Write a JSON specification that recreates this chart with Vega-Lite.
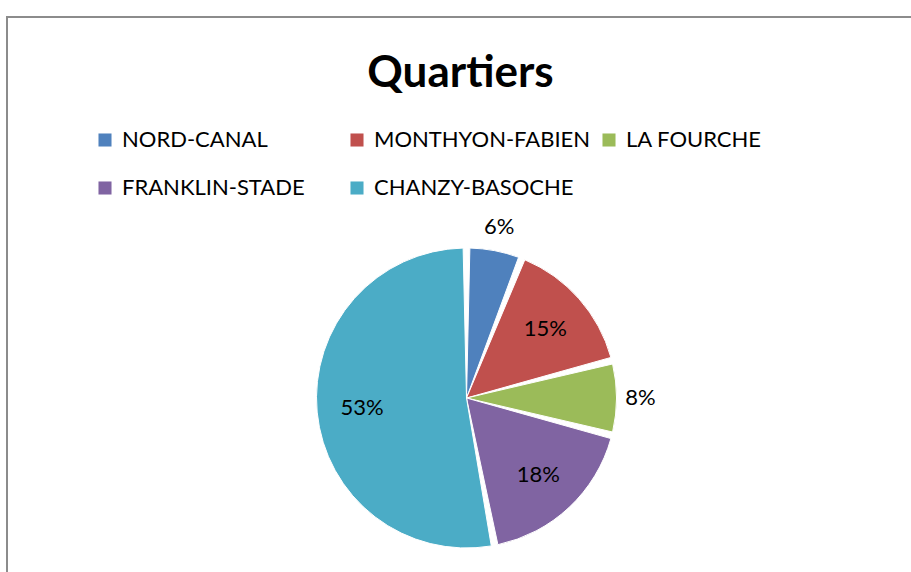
{
  "$schema": "https://vega.github.io/schema/vega-lite/v6.json",
  "width": 911,
  "height": 572,
  "autosize": {"type": "fit", "contains": "padding"},
  "padding": {"left": 6, "top": 16, "right": -4, "bottom": -4},
  "background": "white",
  "title": {
    "text": "Quartiers",
    "font": "Lato",
    "fontSize": 44,
    "fontWeight": "bold",
    "color": "black",
    "anchor": "middle",
    "offset": -80
  },
  "data": {
    "values": [
      {"quartier": "NORD-CANAL", "share": 0.06, "ord": 1},
      {"quartier": "MONTHYON-FABIEN", "share": 0.15, "ord": 2},
      {"quartier": "LA FOURCHE", "share": 0.08, "ord": 3},
      {"quartier": "FRANKLIN-STADE", "share": 0.18, "ord": 4},
      {"quartier": "CHANZY-BASOCHE", "share": 0.53, "ord": 5}
    ]
  },
  "layer": [
    {
      "data": {"values": [{"frame": "border"}]},
      "mark": {"type": "rect", "fill": "white", "fillOpacity": 0, "stroke": "#8c8c8c", "strokeWidth": 2},
      "encoding": {}
    },
    {
      "mark": {"type": "arc", "outerRadius": 150, "padAngle": 0.045, "stroke": "white", "strokeWidth": 1, "x": {"expr": "width/2 + 6"}, "y": {"expr": "height/2 + 102"}},
      "encoding": {
        "theta": {"field": "share", "type": "quantitative", "stack": true},
        "order": {"field": "ord", "type": "quantitative"},
        "color": {
          "field": "quartier",
          "type": "nominal",
          "scale": {
            "domain": ["NORD-CANAL", "MONTHYON-FABIEN", "LA FOURCHE", "FRANKLIN-STADE", "CHANZY-BASOCHE"],
            "range": ["#4F81BD", "#C0504D", "#9BBB59", "#8064A2", "#4BACC6"]
          },
          "legend": {
            "title": null,
            "orient": "none",
            "direction": "horizontal",
            "legendX": 87,
            "legendY": 112,
            "columns": 3,
            "gridAlign": "all",
            "columnPadding": 7,
            "rowPadding": 26,
            "symbolType": "square",
            "symbolSize": 170,
            "symbolStrokeWidth": 0,
            "labelFont": "Lato",
            "labelFontSize": 22,
            "labelColor": "black",
            "labelOffset": 6,
            "labelLimit": 400
          }
        }
      }
    },
    {
      "mark": {"type": "text", "font": "Lato", "fontSize": 22, "color": "black", "radius": {"expr": "datum.share < 0.1 ? 174 : 105"}, "x": {"expr": "width/2 + 6"}, "y": {"expr": "height/2 + 102"}},
      "encoding": {
        "theta": {"field": "share", "type": "quantitative", "stack": true},
        "order": {"field": "ord", "type": "quantitative"},
        "text": {"field": "share", "type": "quantitative", "format": ".0%"}
      }
    }
  ],
  "config": {
    "view": {"stroke": null}
  }
}
